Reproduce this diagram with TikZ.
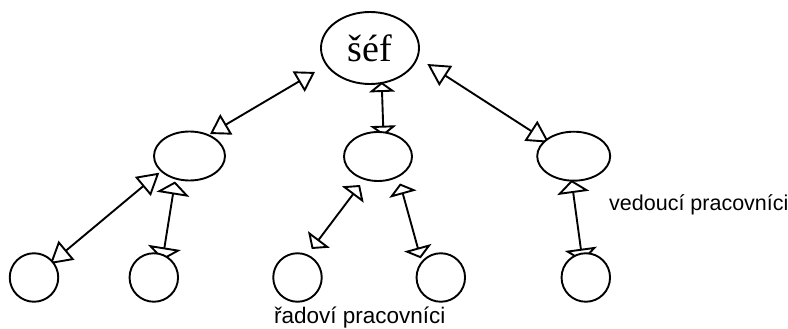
\documentclass[tikz,border=0pt]{standalone}
\usepackage{fontspec}
\setmainfont{Liberation Serif}
\newfontfamily\labelfont{Liberation Sans}
\usetikzlibrary{shapes.geometric,arrows.meta,backgrounds}

\tikzset{
  outline/.style={draw, line width=1.9pt, fill=white, inner sep=0pt},
  boss/.style={outline, ellipse, minimum width=98pt, minimum height=72pt,
    font=\fontsize{38}{38}\selectfont},
  lead/.style={outline, ellipse, minimum width=71pt, minimum height=49pt},
  worker/.style={outline, circle, minimum size=48.5pt},
  caption/.style={anchor=base west, inner sep=0pt, font=\labelfont\fontsize{#1}{#1}\selectfont},
  link/.style args={#1/#2}{line width=1.9pt,
    arrows={Triangle[open,length=#1pt,width=#2pt]-Triangle[open,length=#1pt,width=#2pt]}},
}

\begin{document}
\begin{tikzpicture}[x=1pt, y=-1pt]
  \useasboundingbox (0,0) rectangle (788,329);

  % hierarchy: boss, team leaders, staff
  \node[boss] (boss) at (370,48) {šéf};
  \node[lead] (leadL) at (189.5,156) {};
  \node[lead, minimum width=68pt] (leadC) at (378,156.5) {};
  \node[lead, minimum width=73pt] (leadR) at (573.7,156.2) {};
  \node[worker] (w1) at (34,277.5) {};
  \node[worker] (w2) at (153.8,277.5) {};
  \node[worker] (w3) at (297.5,277.5) {};
  \node[worker] (w4) at (440.8,277.5) {};
  \node[worker] (w5) at (585.8,277.5) {};

  \node[caption=21.5] (capLead) at (609,210) {vedoucí pracovníci};
  \node[caption=22.5] (capStaff) at (274,323.5) {řadoví pracovníci};

  % arrow end points
  \coordinate (bossL) at (315,72);
  \coordinate (leadLtop) at (210,134);
  \coordinate (bossC) at (381.7,82);
  \coordinate (leadCtop) at (383.5,135.7);
  \coordinate (bossR) at (427.3,64);
  \coordinate (leadRtop) at (549.3,142.7);
  \coordinate (leadLa) at (159.3,172.7);
  \coordinate (w1top) at (50,264);
  \coordinate (leadLb) at (175,181.5);
  \coordinate (w2top) at (162.4,260.3);
  \coordinate (leadCa) at (360,185);
  \coordinate (w3top) at (311.7,249);
  \coordinate (leadCb) at (400,183.5);
  \coordinate (w4top) at (420.7,258.3);
  \coordinate (leadRb) at (571.5,180);
  \coordinate (w5top) at (582.6,261.7);

  % two-way links, kept behind the shapes
  \begin{pgfonlayer}{background}
    \draw[link=19/23.5] (leadLtop) -- (bossL);
    \draw[link=10/26] (bossC) -- (leadCtop);
    \draw[link=22/23.5] (bossR) -- (leadRtop);
    \draw[link=21.5/24.5] (leadLa) -- (w1top);
    \draw[link=13/33] (leadLb) -- (w2top);
    \draw[link=12/27] (leadCa) -- (w3top);
    \draw[link=11/28] (leadCb) -- (w4top);
    \draw[link=13/32] (leadRb) -- (w5top);
  \end{pgfonlayer}
\end{tikzpicture}
\end{document}
